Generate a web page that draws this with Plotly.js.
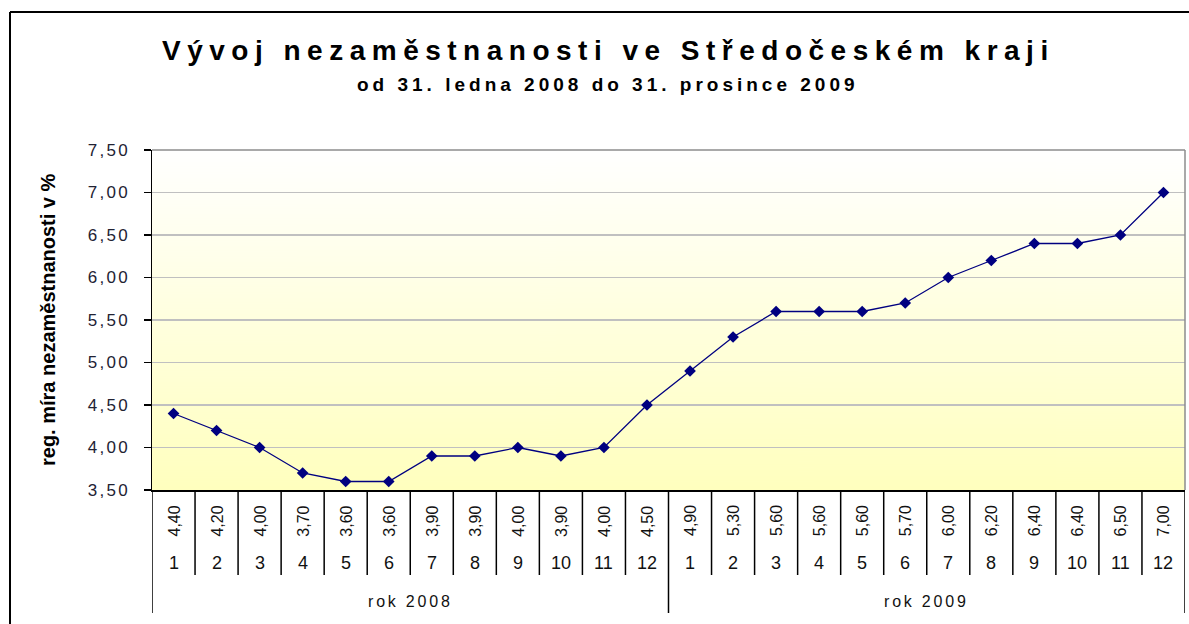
<!DOCTYPE html>
<html>
<head>
<meta charset="utf-8">
<script src="https://cdn.plot.ly/plotly-3.0.1.min.js"></script>
<style>
html,body{margin:0;padding:0;background:#fff;}
#chart{width:1189px;height:624px;}
.ytick text{letter-spacing:2.3px;}
</style>
</head>
<body>
<div id="chart"></div>
<script>
// ---- data ----
const months = [1,2,3,4,5,6,7,8,9,10,11,12,1,2,3,4,5,6,7,8,9,10,11,12];
const years = ['rok 2008','rok 2009'];
const rates = [4.40,4.20,4.00,3.70,3.60,3.60,3.90,3.90,4.00,3.90,4.00,4.50,
               4.90,5.30,5.60,5.60,5.60,5.70,6.00,6.20,6.40,6.40,6.50,7.00];
const yTicks = [3.5,4.0,4.5,5.0,5.5,6.0,6.5,7.0,7.5];
const titleText = 'Vývoj nezaměstnanosti ve Středočeském kraji';
const subtitleText = 'od 31. ledna 2008 do 31. prosince 2009';
const yTitleText = 'reg. míra nezaměstnanosti v %';

// ---- geometry ----
const W = 1189, H = 624;
const mL = 152, mR = 4, mT = 150, mB = 134;
const pw = W - mL - mR, ph = H - mT - mB;
const px2x = p => (p - mL) / pw;          // paper x from pixel
const py2y = p => (H - mB - p) / ph;      // paper y from pixel

const idx = rates.map((_, i) => i);
const fmt = v => v.toFixed(2).replace('.', ',');

// gradient background
const cv = document.createElement('canvas');
cv.width = 4; cv.height = 340;
const cx = cv.getContext('2d');
const gr = cx.createLinearGradient(0, 0, 0, 340);
gr.addColorStop(0, '#ffffff');
gr.addColorStop(1, '#ffffbe');
cx.fillStyle = gr; cx.fillRect(0, 0, 4, 340);
const bgURL = cv.toDataURL('image/png');

const font = 'Liberation Sans, Arial, sans-serif';

const annotations = [];
// title & subtitle
annotations.push({xref:'paper', yref:'paper', x:px2x(608), y:1, yshift:100, xanchor:'center', yanchor:'middle', showarrow:false,
  text:'<span style="letter-spacing:6.5px">'+titleText+'</span>', font:{family:font, size:28, color:'#000', weight:'bold'}});
annotations.push({xref:'paper', yref:'paper', x:px2x(608), y:1, yshift:66, xanchor:'center', yanchor:'middle', showarrow:false,
  text:'<span style="letter-spacing:4px">'+subtitleText+'</span>', font:{family:font, size:19, color:'#000', weight:'bold'}});
// y title
annotations.push({xref:'paper', yref:'paper', x:px2x(48), y:py2y(320), xanchor:'center', yanchor:'middle', showarrow:false, textangle:-90,
  text:yTitleText, font:{family:font, size:20, color:'#000', weight:'bold'}});
// values and months rows
idx.forEach(i => {
  annotations.push({xref:'x', yref:'paper', x:i, y:0, yshift:-31, xanchor:'center', yanchor:'middle', showarrow:false, textangle:-90,
    text:fmt(rates[i]), font:{family:font, size:16, color:'#111'}});
  annotations.push({xref:'x', yref:'paper', x:i, y:0, yshift:-73, xanchor:'center', yanchor:'middle', showarrow:false,
    text:String(months[i]), font:{family:font, size:18, color:'#111'}});
});
years.forEach((t, k) => {
  annotations.push({xref:'x', yref:'paper', x:k*12+5.5, y:0, yshift:-111, xanchor:'center', yanchor:'middle', showarrow:false,
    text:'<span style="letter-spacing:2.8px">'+t+'</span>', font:{family:font, size:16, color:'#111'}});
});

const shapes = [];
// separators in table
for (let b = 0; b <= rates.length; b++) {
  const long = (b % 12 === 0);
  shapes.push({type:'line', xref:'x', yref:'paper', x0:b-0.5, x1:b-0.5, y0:0, y1: long ? py2y(613) : py2y(575),
    line:{color:'#000', width:1.5}});
}
// plot-area top/right border (gray)
shapes.push({type:'line', xref:'paper', yref:'paper', x0:0, x1:1, y0:1, y1:1, line:{color:'#8c8c8c', width:1.5}});
shapes.push({type:'line', xref:'paper', yref:'paper', x0:1, x1:1, y0:0, y1:1, line:{color:'#8c8c8c', width:1.5}});
// outer frame
shapes.push({type:'line', xref:'paper', yref:'paper', x0:px2x(10), x1:px2x(1189), y0:py2y(12), y1:py2y(12), line:{color:'#000', width:2}});
shapes.push({type:'line', xref:'paper', yref:'paper', x0:px2x(10), x1:px2x(10), y0:py2y(12), y1:py2y(624), line:{color:'#000', width:2}});

const trace = {
  type:'scatter', mode:'lines+markers', x: idx, y: rates,
  line:{color:'#000080', width:1.3},
  marker:{symbol:'diamond', size:9, color:'#000080'},
  hoverinfo:'skip', cliponaxis:false
};

const layout = {
  width:W, height:H,
  margin:{l:mL, r:mR, t:mT, b:mB, pad:0},
  paper_bgcolor:'#ffffff', plot_bgcolor:'rgba(0,0,0,0)',
  separators:', ',
  showlegend:false,
  font:{family:font, color:'#111'},
  xaxis:{range:[-0.5, rates.length-0.5], showticklabels:false, showgrid:false, zeroline:false,
    showline:true, linecolor:'#000', linewidth:1.5, ticks:'', fixedrange:true},
  yaxis:{range:[3.5, 7.5], tickvals:yTicks, ticktext:yTicks.map(fmt), showgrid:true, gridcolor:'#c0c0c0', gridwidth:1.3,
    zeroline:false, showline:true, linecolor:'#000', linewidth:1.5, ticks:'outside', ticklen:7, tickcolor:'#000', tickwidth:1.3,
    tickfont:{family:font, size:17, color:'#222233'}, ticklabelstandoff:10, fixedrange:true},
  images:[{source:bgURL, xref:'paper', yref:'paper', x:0, y:1, sizex:1, sizey:1, sizing:'stretch', xanchor:'left', yanchor:'top', layer:'below'}],
  annotations, shapes
};

Plotly.newPlot('chart', [trace], layout, {displayModeBar:false, staticPlot:true});
</script>
</body>
</html>
